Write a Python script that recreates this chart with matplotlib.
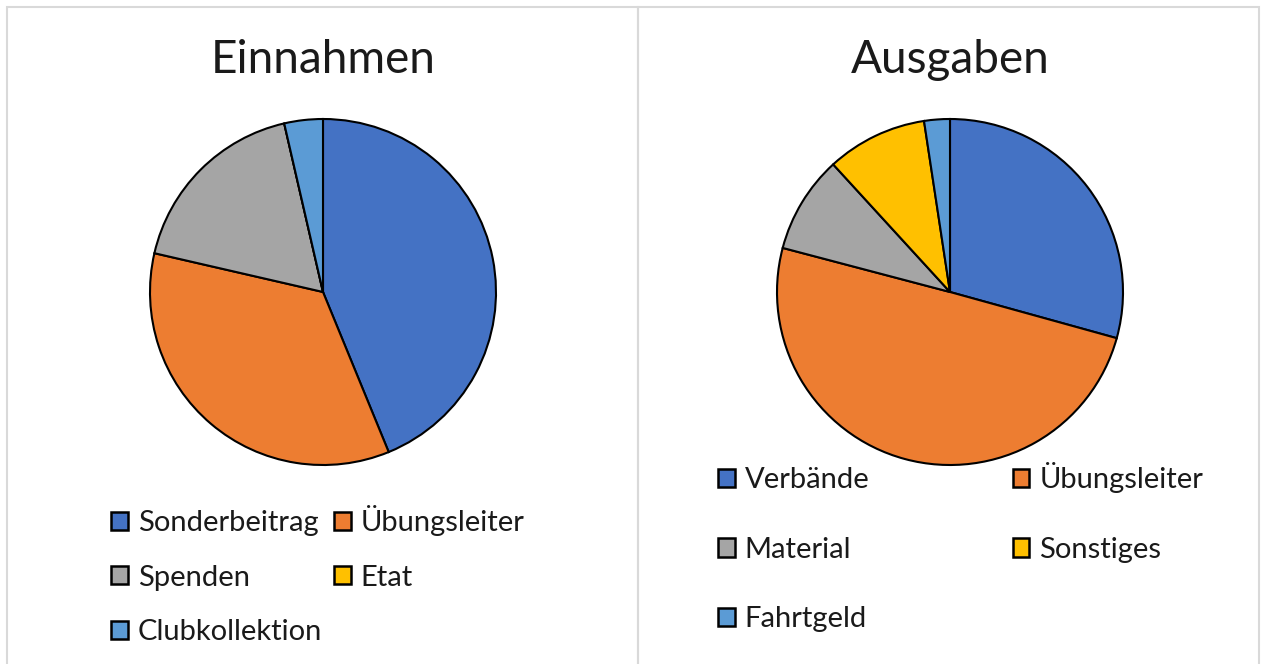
import matplotlib.pyplot as plt
from matplotlib.patches import Patch, Rectangle

plt.rcParams['font.family'] = ['Lato', 'DejaVu Sans']

# data
ein_labels = ['Sonderbeitrag', 'Übungsleiter', 'Spenden', 'Etat', 'Clubkollektion']
ein_values = [43.8, 34.8, 17.8, 0.0, 3.6]
aus_labels = ['Verbände', 'Übungsleiter', 'Material', 'Sonstiges', 'Fahrtgeld']
aus_values = [29.3, 49.8, 9.1, 9.4, 2.4]
colors = ['#4472C4', '#ED7D31', '#A5A5A5', '#FFC000', '#5B9BD5']

W, H = 1265, 664
fig = plt.figure(figsize=(W / 100, H / 100), dpi=100)


def px_axes(cx, cy, r):
    return fig.add_axes([(cx - r) / W, (H - cy - r) / H, 2 * r / W, 2 * r / H])


# panel borders
for x0, x1 in [(7, 638), (638, 1259)]:
    fig.patches.append(Rectangle((x0 / W, -0.05), (x1 - x0) / W, 1.05 - 7 / H,
                                 transform=fig.transFigure, fill=False,
                                 edgecolor='#D9D9D9', linewidth=1.5))


def draw_pie(cx, title, labels, values, leg_x, leg_y, labelsp, colsp):
    ax = px_axes(cx, 292, 173)
    ax.pie(values, colors=colors, startangle=90, counterclock=False,
           wedgeprops=dict(edgecolor='black', linewidth=1.5))
    ax.set_xlim(-1, 1)
    ax.set_ylim(-1, 1)
    ax.axis('off')
    fig.text(cx / W, 1 - 60 / H, title, ha='center', va='center',
             fontsize=33, color='#1a1a1a')
    handles = [Patch(facecolor=c, edgecolor='black', linewidth=1.8) for c in colors]
    order = [0, 2, 4, 1, 3]
    fig.legend([handles[i] for i in order], [labels[i] for i in order],
               loc='upper left', bbox_to_anchor=(leg_x / W, 1 - leg_y / H),
               ncol=2, frameon=False, fontsize=21, borderpad=0, borderaxespad=0,
               handlelength=0.58, handleheight=0.58, handletextpad=0.34,
               labelspacing=labelsp, columnspacing=colsp, labelcolor='#1a1a1a')


draw_pie(323, 'Einnahmen', ein_labels, ein_values, 111, 505, 0.98, 0.4)
draw_pie(950, 'Ausgaben', aus_labels, aus_values, 718, 462, 1.5, 4.9)

fig.savefig('out.png', dpi=100)
